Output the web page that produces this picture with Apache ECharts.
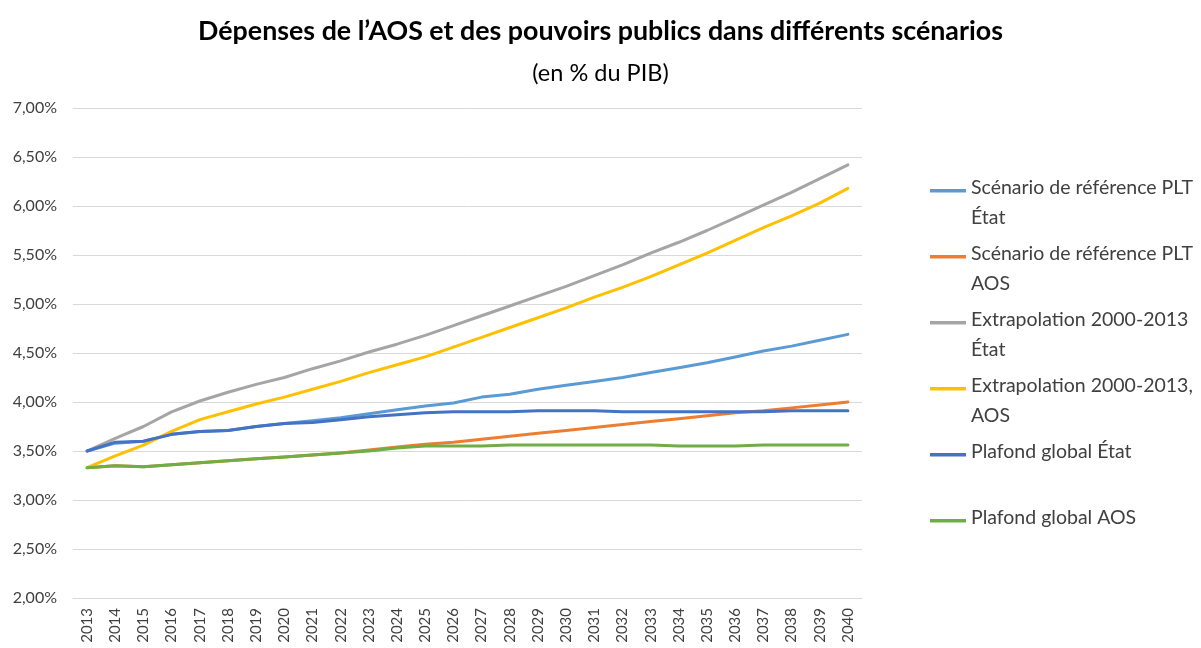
<!DOCTYPE html>
<html>
<head>
<meta charset="utf-8">
<script src="https://cdn.jsdelivr.net/npm/echarts@6/dist/echarts.min.js"></script>
<style>
  html, body { margin: 0; padding: 0; background: #fff; }
  #chart { width: 1201px; height: 648px; }
</style>
</head>
<body>
<div id="chart"></div>
<script>
// années
const years = ['2013','2014','2015','2016','2017','2018','2019','2020','2021','2022','2023','2024','2025','2026',
  '2027','2028','2029','2030','2031','2032','2033','2034','2035','2036','2037','2038','2039','2040'];

// valeurs en % du PIB
const refEtat = [3.50,3.58,3.60,3.67,3.70,3.71,3.75,3.78,3.81,3.84,3.88,3.92,3.96,3.99,
  4.05,4.08,4.13,4.17,4.21,4.25,4.30,4.35,4.40,4.46,4.52,4.57,4.63,4.69];
const refAos = [3.33,3.35,3.34,3.36,3.38,3.40,3.42,3.44,3.46,3.48,3.51,3.54,3.57,3.59,
  3.62,3.65,3.68,3.71,3.74,3.77,3.80,3.83,3.86,3.89,3.91,3.94,3.97,4.00];
const extraEtat = [3.50,3.63,3.75,3.90,4.01,4.10,4.18,4.25,4.34,4.42,4.51,4.59,4.68,4.78,
  4.88,4.98,5.08,5.18,5.29,5.40,5.52,5.63,5.75,5.88,6.01,6.14,6.28,6.42];
const extraAos = [3.33,3.45,3.56,3.70,3.82,3.90,3.98,4.05,4.13,4.21,4.30,4.38,4.46,4.56,
  4.66,4.76,4.86,4.96,5.07,5.17,5.28,5.40,5.52,5.65,5.78,5.90,6.03,6.18];
const plafondEtat = [3.50,3.59,3.60,3.67,3.70,3.71,3.75,3.78,3.79,3.82,3.85,3.87,3.89,3.90,
  3.90,3.90,3.91,3.91,3.91,3.90,3.90,3.90,3.90,3.90,3.90,3.91,3.91,3.91];
const plafondAos = [3.33,3.35,3.34,3.36,3.38,3.40,3.42,3.44,3.46,3.48,3.50,3.53,3.55,3.55,
  3.55,3.56,3.56,3.56,3.56,3.56,3.56,3.55,3.55,3.55,3.56,3.56,3.56,3.56];

const seriesNames = ['Scénario de référence PLT État', 'Scénario de référence PLT AOS',
  'Extrapolation 2000-2013 État', 'Extrapolation 2000-2013, AOS', 'Plafond global État', 'Plafond global AOS'];
// texte de la légende sur deux lignes, comme dans Excel
const legendLabels = {
  'Scénario de référence PLT État': 'Scénario de référence PLT\nÉtat',
  'Scénario de référence PLT AOS': 'Scénario de référence PLT\nAOS',
  'Extrapolation 2000-2013 État': 'Extrapolation 2000-2013\nÉtat',
  'Extrapolation 2000-2013, AOS': 'Extrapolation 2000-2013,\nAOS',
  'Plafond global État': 'Plafond global État\n ',
  'Plafond global AOS': 'Plafond global AOS\n '
};
const colors = ['#5B9BD5', '#ED7D31', '#A5A5A5', '#FFC000', '#4472C4', '#70AD47'];
const allData = [refEtat, refAos, extraEtat, extraAos, plafondEtat, plafondAos];

const font = 'Lato, "Open Sans", sans-serif';

let myChart = echarts.init(document.getElementById('chart'));

let option = {
  animation: false,
  color: colors,
  title: [
    {
      text: 'Dépenses de l\u2019AOS et des pouvoirs publics dans différents scénarios',
      left: 'center', top: 13,
      textStyle: { fontFamily: font, fontSize: 26.8, fontWeight: 'bold', color: '#000' }
    },
    {
      text: '(en % du PIB)',
      left: 'center', top: 56,
      textStyle: { fontFamily: font, fontSize: 23.5, fontWeight: 'normal', color: '#000' }
    }
  ],
  legend: {
    orient: 'vertical',
    left: 930, top: 173,
    padding: 0,
    itemGap: 6,
    itemWidth: 36, itemHeight: 28,
    // trait en haut de l'icône pour l'aligner sur la première ligne
    icon: 'path://M0 0H36V3.5H0Z M0 28',
    itemStyle: { borderWidth: 0 },
    textStyle: { fontFamily: font, fontSize: 19.5, color: '#404040', lineHeight: 30 },
    formatter: (name) => legendLabels[name],
    data: seriesNames
  },
  grid: { left: 73, right: 339, top: 108, bottom: 50 },
  xAxis: {
    type: 'category',
    data: years,
    boundaryGap: true,
    axisLine: { show: true, lineStyle: { color: '#d9d9d9' } },
    axisTick: { show: false },
    axisLabel: { rotate: 90, interval: 0, margin: 10, fontFamily: font, fontSize: 15, color: '#404040' }
  },
  yAxis: {
    type: 'value',
    min: 2, max: 7, interval: 0.5,
    axisLine: { show: false },
    axisTick: { show: false },
    splitLine: { lineStyle: { color: '#d9d9d9', width: 1 } },
    axisLabel: {
      margin: 16, fontFamily: font, fontSize: 16, color: '#404040',
      formatter: (v) => v.toFixed(2).replace('.', ',') + '%'
    }
  },
  series: seriesNames.map((name, i) => ({
    name: name,
    type: 'line',
    data: allData[i],
    symbol: 'none',
    lineStyle: { width: 3, color: colors[i], join: 'round', cap: 'round' }
  }))
};

myChart.setOption(option);
window.addEventListener('resize', function() {
  myChart.resize();
});
</script>
</body>
</html>
